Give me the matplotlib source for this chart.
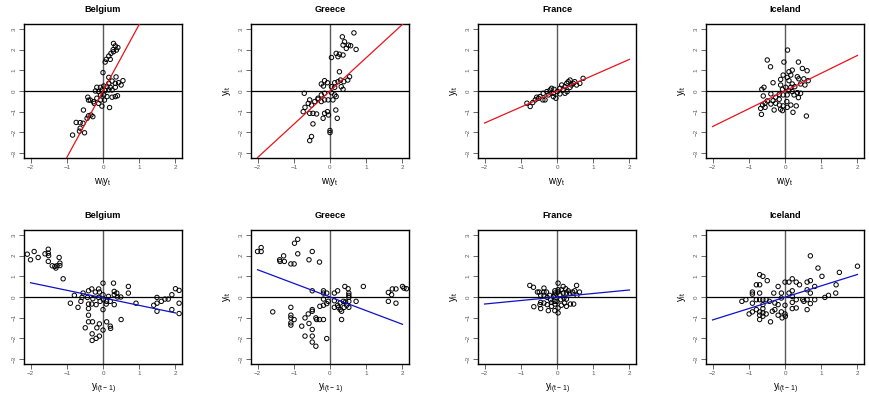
"""Spatial and temporal lag scatter plots, four countries."""

import matplotlib

matplotlib.use("Agg")
import matplotlib.pyplot as plt
import numpy as np

plt.rcParams["font.family"] = ["Liberation Sans", "DejaVu Sans"]
plt.rcParams["mathtext.fontset"] = "custom"
plt.rcParams["mathtext.rm"] = "Liberation Sans"

# %% Data
countries = ["Belgium", "Greece", "France", "Iceland"]

# top row: x = w_i y_t, y = y_it
be_wy_x = [0.29, 0.34, 0.41, 0.28, 0.37, 0.22, 0.16, 0.09, 0.2, 0.06, 0.29, 0.0, 0.16, 0.36,
           0.55, 0.5, 0.43, 0.34, 0.25, 0.16, 0.11, -0.17, -0.07, 0.02, 0.2, 0.34, -0.21, -0.12,
           -0.03, 0.06, 0.16, 0.25, -0.07, 0.02, 0.11, 0.25, 0.34, 0.4, -0.17, -0.07, 0.04, -0.26,
           -0.12, -0.03, 0.18, -0.4, -0.42, -0.54, -0.4, -0.44, -0.33, -0.28, -0.55, -0.63, -0.74,
           -0.63, -0.65, -0.51, -0.84, -0.35, -0.24]
be_wy_y = [2.3, 2.18, 2.1, 2.0, 1.98, 1.82, 1.69, 1.53, 1.53, 1.4, 1.9, 0.89, 0.66, 0.68,
           0.5, 0.29, 0.4, 0.37, 0.48, 0.37, 0.21, 0.18, 0.18, 0.24, 0.18, 0.18, 0.0, -0.03,
           0.05, 0.02, 0.05, 0.05, -0.19, -0.19, -0.27, -0.3, -0.27, -0.23, -0.35, -0.44, -0.44,
           -0.52, -0.6, -0.73, -0.8, -0.44, -0.3, -0.92, -1.2, -1.32, -1.16, -1.24, -1.56, -1.53,
           -1.52, -1.8, -1.94, -2.02, -2.13, -0.44, -0.6]

gr_wy_x = [0.66, 0.34, 0.4, 0.36, 0.51, 0.57, 0.45, 0.72, 0.17, 0.26, 0.36, 0.22, 0.04, 0.26,
           0.29, 0.54, 0.49, 0.38, 0.22, 0.13, -0.15, -0.07, -0.24, -0.18, 0.04, 0.13, 0.31, 0.36,
           -0.71, -0.24, -0.15, 0.04, 0.13, 0.17, 0.08, -0.05, -0.15, -0.24, -0.33, -0.42, -0.56,
           -0.6, -0.51, -0.69, -0.74, -0.56, -0.47, -0.37, -0.07, -0.04, -0.15, 0.16, -0.19, 0.2,
           -0.47, 0.0, 0.0, -0.51, -0.56, -0.33]
gr_wy_y = [2.81, 2.62, 2.38, 2.22, 2.22, 2.19, 2.06, 2.01, 1.82, 1.78, 1.74, 1.66, 1.62, 0.93,
           0.53, 0.69, 0.53, 0.45, 0.45, 0.4, 0.5, 0.4, 0.34, 0.24, 0.21, 0.18, 0.21, 0.08,
           -0.11, -0.19, -0.11, -0.08, -0.19, -0.27, -0.43, -0.43, -0.43, -0.51, -0.35, -0.51,
           -0.43, -0.6, -0.68, -0.79, -1.0, -1.08, -1.08, -1.11, -1.0, -1.16, -1.08, -0.92, -1.32,
           -1.32, -1.59, -1.91, -2.01, -2.2, -2.4, -0.4]

fr_wy_x = [-0.83, -0.74, -0.67, -0.6, -0.56, -0.51, -0.39, -0.33, -0.38, -0.24, -0.19, -0.15,
           -0.1, -0.03, 0.01, 0.08, 0.13, 0.17, 0.22, 0.27, 0.31, 0.36, 0.4, 0.45, 0.49, 0.54,
           0.63, 0.72, 0.28, 0.22, 0.08, -0.08, -0.28, -0.47, 0.36, -0.1]
fr_wy_y = [-0.59, -0.75, -0.56, -0.43, -0.3, -0.35, -0.43, -0.43, -0.11, -0.19, 0.05, 0.13,
           -0.27, -0.35, -0.03, 0.13, 0.29, 0.05, 0.21, 0.37, 0.45, 0.53, 0.29, 0.37, 0.45, 0.29,
           0.37, 0.61, -0.03, -0.11, -0.14, 0.08, -0.03, -0.27, 0.18, -0.11]

is_wy_x = [0.07, -0.49, -0.03, 0.37, -0.4, 0.48, 0.2, 0.11, 0.61, 0.16, 0.06, -0.05, 0.34, 0.38,
           0.52, 0.64, -0.12, 0.11, -0.33, 0.2, 0.43, 0.55, -0.12, -0.58, -0.64, 0.02, 0.16, 0.27,
           -0.07, 0.11, 0.2, 0.34, 0.43, -0.39, -0.6, -0.16, -0.05, 0.06, 0.25, 0.37, -0.26, -0.16,
           -0.33, -0.49, -0.55, -0.62, -0.67, -0.55, -0.39, -0.26, -0.15, -0.05, 0.06, 0.16, 0.31,
           -0.3, -0.12, -0.07, 0.22, -0.65, 0.59, 0.05]
is_wy_y = [1.98, 1.5, 1.4, 1.4, 1.17, 1.09, 1.01, 0.93, 0.98, 0.77, 0.66, 0.77, 0.69, 0.59,
           0.59, 0.5, 0.56, 0.5, 0.4, 0.34, 0.34, 0.29, 0.29, 0.18, 0.08, 0.18, 0.18, 0.21,
           0.08, 0.02, -0.03, -0.08, -0.11, -0.14, -0.24, -0.16, -0.19, -0.19, -0.19, -0.32,
           -0.3, -0.4, -0.47, -0.48, -0.59, -0.68, -0.84, -0.79, -0.63, -0.59, -0.68, -0.72,
           -0.79, -0.68, -0.72, -0.92, -0.88, -0.95, -1.03, -1.13, -1.21, -0.51]

# bottom row: x = y_i(t-1), y = y_it
be_lag_x = [-2.09, -2.0, -1.9, -1.79, -1.6, -1.51, -1.51, -1.5, -1.51, -1.4, -1.33, -1.3, -1.27,
            -1.21, -1.19, -1.19, -1.1, -0.9, -0.79, -0.69, -0.61, -0.58, -0.55, -0.43, -0.4,
            -0.4, -0.4, -0.4, -0.31, -0.28, -0.31, -0.21, -0.19, -0.12, -0.12, -0.1, -0.08, 0.0,
            0.0, 0.0, 0.01, 0.09, 0.1, 0.15, 0.2, 0.29, 0.31, 0.31, 0.31, 0.38, 0.4, 0.49, 0.7,
            0.7, 0.91, -0.49, -0.29, -0.3, -0.3, -0.19, -0.1, -0.1, -0.17, 0.0, 0.1, 0.2, 0.21,
            0.5, -0.4, 1.4, 1.49, 1.49, 1.49, 1.61, 1.71, 1.8, 1.9, 1.9, 2.0, 2.1, 2.1, 2.1]
be_lag_y = [2.07, 1.8, 2.2, 1.91, 2.09, 2.31, 2.12, 2.0, 1.72, 1.51, 1.48, 1.4, 1.51, 1.91, 1.64,
            1.52, 0.88, -0.3, 0.08, -0.5, -0.21, -0.02, 0.19, -0.02, -0.34, -0.56, -0.88, 0.3,
            0.39, -0.08, -0.34, 0.24, -0.37, -0.02, 0.39, 0.24, -0.21, 0.67, 0.11, -0.61, -0.13,
            -0.34, -0.21, 0.03, -0.21, 0.67, 0.27, 0.11, -0.37, 0.19, 0.0, 0.0, 0.51, 0.19, -0.3,
            -1.49, -1.2, -1.78, -2.1, -2.0, -1.89, -1.3, -1.49, -1.6, -1.2, -1.41, -1.52, -1.09,
            -1.2, -0.4, -0.02, -0.3, -0.69, -0.21, -0.1, -0.1, 0.11, -0.61, 0.4, 0.32, -0.3, -0.8]

gr_lag_x = [-2.0, -1.9, -1.9, -1.58, -1.39, -1.38, -1.28, -1.26, -1.08, -0.99, -1.08, -1.08,
            -1.08, -1.08, -1.08, -0.99, -0.98, -0.89, -0.89, -0.78, -0.69, -0.69, -0.6, -0.58,
            -0.58, -0.49, -0.49, -0.49, -0.49, -0.49, -0.49, -0.49, -0.39, -0.39, -0.37, -0.29,
            -0.29, -0.28, -0.18, -0.18, -0.18, -0.18, -0.18, -0.09, -0.09, -0.09, -0.05, 0.12,
            0.12, 0.12, 0.21, 0.21, 0.23, 0.28, 0.28, 0.32, 0.32, 0.37, 0.39, 0.41, 0.43, 0.46,
            0.5, 0.52, 0.52, 0.52, 0.52, 0.52, 0.72, 0.92, 1.61, 1.61, 1.7, 1.72, 1.82, 1.82, 2.0,
            2.04, 2.11]
gr_lag_y = [2.2, 2.39, 2.2, -0.72, 1.8, 1.72, 1.99, 1.72, 1.6, 1.6, -0.5, -0.88, -1.01, -1.25,
            -1.36, -1.09, 2.6, 2.79, 2.09, -1.41, -1.01, -1.89, -0.82, -1.28, 1.8, 2.2, 0.3,
            -0.61, -0.69, -1.57, -1.89, -2.18, -1.01, -2.38, -1.09, 1.69, -1.09, -0.45, 0.3,
            0.19, -0.1, -0.4, -1.09, 0.19, -0.32, -2.01, -0.21, 0.19, -0.18, -0.5, 0.3, -0.4,
            -0.5, -0.61, -0.29, -0.69, -1.09, -0.21, -0.5, 0.51, -0.24, -0.4, 0.4, 0.19, 0.08,
            -0.02, -0.21, -0.5, -0.21, 0.51, 0.22, -0.21, 0.11, 0.39, 0.39, -0.3, 0.51, 0.43, 0.4]

fr_lag_x = [-0.75, -0.65, -0.64, -0.54, -0.49, -0.45, -0.45, -0.45, -0.36, -0.36, -0.36, -0.36,
            -0.29, -0.27, -0.27, -0.24, -0.2, -0.18, -0.15, -0.15, -0.1, -0.06, -0.06, -0.06,
            -0.06, -0.06, -0.06, 0.0, 0.03, 0.03, 0.03, 0.03, 0.03, 0.08, 0.1, 0.12, 0.17, 0.17,
            0.19, 0.21, 0.24, 0.26, 0.26, 0.26, 0.31, 0.35, 0.37, 0.43, 0.46, 0.49, 0.54, 0.55,
            0.62, 0.12, -0.47]
fr_lag_y = [0.56, 0.47, -0.47, 0.24, 0.24, 0.08, -0.26, -0.56, 0.43, 0.24, 0.08, -0.29, 0.24,
            -0.02, -0.37, -0.66, 0.08, -0.13, -0.26, -0.45, 0.03, 0.3, 0.19, 0.08, -0.21, -0.34,
            -0.66, -0.21, 0.67, 0.35, 0.24, -0.53, -0.77, 0.11, -0.13, 0.35, 0.51, 0.19, -0.05,
            -0.29, 0.4, 0.19, -0.1, -0.45, 0.3, 0.19, -0.34, 0.24, -0.34, 0.3, 0.56, 0.08, 0.24,
            -0.4, -0.37]

is_lag_x = [-1.19, -1.08, -0.99, -0.9, -0.9, -0.9, -0.9, -0.79, -0.79, -0.79, -0.7, -0.7, -0.7,
            -0.7, -0.7, -0.7, -0.7, -0.61, -0.61, -0.61, -0.61, -0.61, -0.61, -0.52, -0.52,
            -0.49, -0.43, -0.4, -0.35, -0.31, -0.28, -0.28, -0.19, -0.19, -0.19, -0.1, -0.1,
            -0.1, -0.08, 0.0, 0.0, 0.0, 0.01, 0.11, 0.2, 0.2, 0.2, 0.2, 0.2, 0.31, 0.31, 0.4,
            0.49, 0.52, 0.61, 0.61, 0.61, 0.61, 0.7, 0.7, 0.7, 0.7, 0.82, 0.82, 0.91, 1.02, 1.1,
            1.2, 1.4, 1.41, 1.5, 2.0, 0.11, 0.31]
is_lag_y = [-0.21, -0.13, -0.82, 0.24, 0.14, -0.3, -0.72, 0.59, -0.13, -0.61, 1.08, 0.59, 0.19,
            -0.13, -0.72, -0.88, -1.09, 1.0, -0.13, -0.37, -0.56, -0.77, -0.93, -0.13, -0.82,
            0.79, -0.21, -1.2, -0.69, 0.19, -0.29, -0.61, 0.51, -0.37, -0.88, 0.19, -0.05, -0.72,
            -1.01, 0.72, -0.4, -0.82, -0.93, 0.72, 0.88, 0.3, 0.03, -0.26, -0.56, 0.72, -0.53,
            0.59, -0.13, -0.21, 0.72, 0.35, -0.13, -0.61, 1.99, 0.79, 0.19, -0.32, 0.51, -0.13,
            1.4, 1.0, -0.02, 0.08, 0.19, 0.59, 1.19, 1.49, 0.19, -0.13]

# fitted lines (intercept, slope)
wy_fit = [(0.0, 3.22), (0.0, 1.61), (-0.01, 0.77), (0.0, 0.86)]
lag_fit = [(-0.04, -0.365), (0.0, -0.66), (0.0, 0.17), (-0.01, 0.55)]

top_x = [be_wy_x, gr_wy_x, fr_wy_x, is_wy_x]
top_y = [be_wy_y, gr_wy_y, fr_wy_y, is_wy_y]
bot_x = [be_lag_x, gr_lag_x, fr_lag_x, is_lag_x]
bot_y = [be_lag_y, gr_lag_y, fr_lag_y, is_lag_y]

ticks_x = [-2, -1, 0, 1, 2]
ticks_y = [-3, -2, -1, 0, 1, 2, 3]


# %% Helpers
def _panel(ax, x, y, fit, color, title, xlabel, ylabel):
    ax.axhline(0, color="black", lw=0.9, zorder=1)
    ax.axvline(0, color="0.35", lw=1.0, zorder=1)
    ax.scatter(x, y, s=10, facecolors="none", edgecolors="black", linewidths=0.7, zorder=2)
    xx = np.array([-2.0, 2.0])
    ax.plot(xx, fit[0] + fit[1] * xx, color=color, lw=0.9, zorder=3)
    ax.set_xlim(-2.18, 2.18)
    ax.set_ylim(-3.24, 3.24)
    ax.set_xticks(ticks_x)
    ax.set_yticks(ticks_y)
    ax.tick_params(axis="both", labelsize=4.5, length=3.5, width=0.6, pad=1.8,
                   labelcolor="0.35", color="0.3")
    for lbl in ax.get_yticklabels():
        lbl.set_rotation(90)
        lbl.set_va("center")
    for sp in ax.spines.values():
        sp.set_linewidth(1.0)
    ax.set_title(title, fontsize=6.6, fontweight="bold", pad=9)
    ax.set_xlabel(xlabel, fontsize=7, labelpad=4)
    if ylabel:
        ax.set_ylabel(ylabel, fontsize=7, labelpad=4)


# %% Plot
W, H = 869, 416
fig = plt.figure(figsize=(W / 100, H / 100), dpi=100)
lefts = [24, 251, 478, 706]
pw, ph = 158, 134
ylab = r"$\mathregular{y_{it}}$"
for i, c in enumerate(countries):
    # Belgium's y label falls outside the page in the reference
    yl = ylab if i > 0 else None
    ax = fig.add_axes([lefts[i] / W, (H - 158) / H, pw / W, ph / H])
    _panel(ax, top_x[i], top_y[i], wy_fit[i], "#e8141c", c, r"$\mathregular{w_iy_t}$", yl)
    ax = fig.add_axes([lefts[i] / W, (H - 364) / H, pw / W, ph / H])
    _panel(ax, bot_x[i], bot_y[i], lag_fit[i], "#1010c8", c,
           r"$\mathregular{y_{i(t-1)}}$", yl)

fig.savefig("out.png", dpi=100)
